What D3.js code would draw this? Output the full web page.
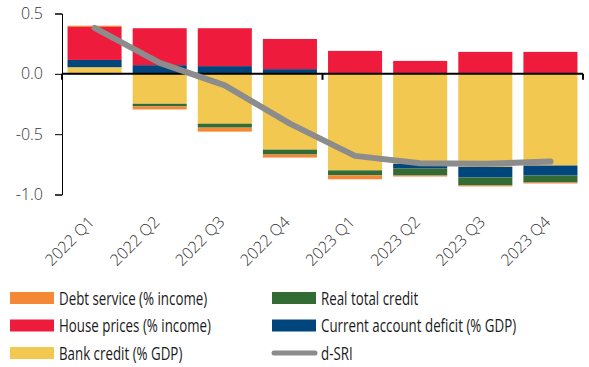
<!DOCTYPE html>
<html><head><meta charset="utf-8">
<script src="https://cdn.jsdelivr.net/npm/d3@7"></script>
<style>body{margin:0;background:#fff}</style>
</head><body>
<script>
const categories = ["2022 Q1","2022 Q2","2022 Q3","2022 Q4","2023 Q1","2023 Q2","2023 Q3","2023 Q4"];
const bankCredit   = [0.055,-0.248,-0.413,-0.628,-0.800,-0.746,-0.771,-0.760];
const currentAcct  = [0.060, 0.072, 0.064, 0.039, 0.000,-0.039,-0.088,-0.083];
const realCredit   = [-0.004,-0.022,-0.033,-0.041,-0.041,-0.058,-0.066,-0.058];
const housePrices  = [0.273, 0.306, 0.314, 0.250, 0.190, 0.107, 0.182, 0.182];
const debtService  = [0.011,-0.025,-0.033,-0.025,-0.033,-0.008,-0.008,-0.008];
const dSRI         = [0.380, 0.091,-0.095,-0.413,-0.680,-0.741,-0.746,-0.727];
const yTicks = [0.5, 0.0, -0.5, -1.0];

const seriesNames = ["Bank credit (% GDP)","Current account deficit (% GDP)","Real total credit","House prices (% income)","Debt service (% income)"];
const seriesKeys = ["bank","ca","real","house","debt"];
const seriesData = [bankCredit,currentAcct,realCredit,housePrices,debtService];
const colors = {bank:"#f2c851", ca:"#00467c", real:"#336b35", house:"#ef1b3d", debt:"#f58836", line:"#8c8c8c"};

const W=589,H=367;
const svg=d3.select("body").append("svg").attr("width",W).attr("height",H);
const x=d3.scaleBand().domain(categories).range([62,583]).paddingInner(0.17).paddingOuter(0.085);
const y=d3.scaleLinear().domain([-1.0,0.5]).range([194.5,13.5]);

const rows=categories.map((c,i)=>{const o={cat:c};seriesKeys.forEach((k,j)=>o[k]=seriesData[j][i]);return o;});
const stack=d3.stack().keys(seriesKeys).offset(d3.stackOffsetDiverging)(rows);

svg.append("g").selectAll("g").data(stack).join("g").attr("fill",d=>colors[d.key])
 .selectAll("rect").data(d=>d).join("rect")
 .attr("x",d=>x(d.data.cat)).attr("width",x.bandwidth())
 .attr("y",d=>y(Math.max(d[0],d[1]))).attr("height",d=>Math.abs(y(d[0])-y(d[1])));

// y axis
const ya=svg.append("g").attr("transform","translate(62,0)")
 .call(d3.axisLeft(y).tickValues(yTicks).tickFormat(d3.format(".1f")).tickSize(7).tickPadding(12));
ya.selectAll("path,line").attr("stroke","#000");
ya.selectAll("text").attr("font-family","'Open Sans',sans-serif").attr("font-weight",300).attr("font-size","16px").attr("fill","#333").text(d=>d3.format(".1f")(d).replace("−","-"));

// zero line
svg.append("line").attr("x1",62).attr("x2",583).attr("y1",y(0)).attr("y2",y(0)).attr("stroke","#000").attr("stroke-width",2);
[62, (x(categories[3])+x.bandwidth()+x(categories[4]))/2, 583].forEach(px=>{
 svg.append("line").attr("x1",px).attr("x2",px).attr("y1",y(0)).attr("y2",y(0)+6).attr("stroke","#000").attr("stroke-width",2);
});

// x labels
svg.append("g").selectAll("text").data(categories).join("text")
 .attr("transform",d=>`translate(${x(d)+x.bandwidth()/2+1},${223}) rotate(-45)`)
 .attr("text-anchor","end").attr("font-family","'Open Sans',sans-serif").attr("font-weight",300).attr("font-size","16px").attr("fill","#333")
 .text(d=>d);

// d-SRI line
svg.append("path").datum(dSRI)
 .attr("d",d3.line().x((d,i)=>x(categories[i])+x.bandwidth()/2).y(d=>y(d)))
 .attr("fill","none").attr("stroke",colors.line).attr("stroke-width",6).attr("stroke-linecap","round").attr("stroke-linejoin","round");

// legend
const legendItems=[
 {name:"Debt service (% income)",key:"debt",col:0,row:0},
 {name:"House prices (% income)",key:"house",col:0,row:1},
 {name:"Bank credit (% GDP)",key:"bank",col:0,row:2},
 {name:"Real total credit",key:"real",col:1,row:0},
 {name:"Current account deficit (% GDP)",key:"ca",col:1,row:1},
 {name:"d-SRI",key:"line",col:1,row:2,line:true}
];
const lg=svg.append("g");
legendItems.forEach(it=>{
 const lx=it.col?272:10, ly=298+it.row*27.5;
 if(it.line){
  lg.append("line").attr("x1",lx+2).attr("x2",lx+43).attr("y1",ly).attr("y2",ly).attr("stroke",colors.line).attr("stroke-width",5).attr("stroke-linecap","round");
 } else {
  lg.append("rect").attr("x",lx).attr("y",ly-6).attr("width",44).attr("height",12).attr("fill",colors[it.key]);
 }
 lg.append("text").attr("transform",`translate(${lx+49},${ly+6.5}) scale(0.74,1)`)
  .attr("font-family","'Open Sans',sans-serif").attr("font-size","18px").attr("fill","#1a1a1a").text(it.name);
});
</script>
</body></html>
